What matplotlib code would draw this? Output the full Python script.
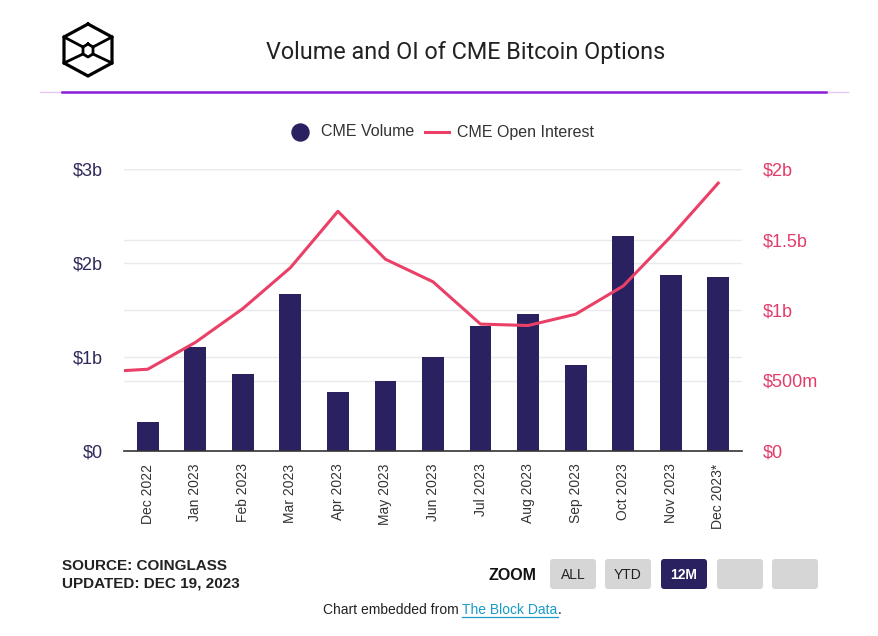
import matplotlib
matplotlib.use("Agg")
import matplotlib.pyplot as plt
from matplotlib.patches import FancyBboxPatch
import numpy as np

# ---- data ----
months = ["Dec 2022", "Jan 2023", "Feb 2023", "Mar 2023", "Apr 2023", "May 2023",
          "Jun 2023", "Jul 2023", "Aug 2023", "Sep 2023", "Oct 2023", "Nov 2023",
          "Dec 2023*"]
volume_b = [0.31, 1.11, 0.82, 1.67, 0.63, 0.74, 1.00, 1.33, 1.46, 0.91, 2.29, 1.87, 1.85]
oi_start_b = 0.57  # open interest at the left edge of the period
oi_b = [0.58, 0.77, 1.01, 1.30, 1.70, 1.36, 1.20, 0.90, 0.89, 0.97, 1.17, 1.52, 1.90]
left_ticks = [0, 1, 2, 3]
left_labels = ["$0", "$1b", "$2b", "$3b"]
right_ticks = [0, 0.5, 1, 1.5, 2]
right_labels = ["$0", "$500m", "$1b", "$1.5b", "$2b"]

W, H = 879, 636
BAR = "#2a2160"
LINE = "#ea4068"
FONT = "Liberation Sans"
fig = plt.figure(figsize=(W / 100, H / 100), dpi=100)
fig.patch.set_facecolor("white")

# main axes
L, R, T, B = 124, 742, 169, 451
ax = fig.add_axes([L / W, 1 - B / H, (R - L) / W, (B - T) / H])
x = np.arange(len(months))
ax.set_xlim(-0.5, len(months) - 0.5)
ax.set_ylim(0, 3)

ax2 = ax.twinx()
ax2.set_ylim(0, 2)

# gridlines of both axes, behind the bars
for v in left_ticks[1:]:
    ax.axhline(v, color="#e9e9ee", lw=1, zorder=0)
for v in right_ticks[1:]:
    ax.axhline(ax.transData.inverted().transform(ax2.transData.transform((0, v)))[1],
               color="#e9e9ee", lw=1, zorder=0)

ax.bar(x, volume_b, width=0.46, color=BAR, zorder=3)
ax.set_yticks(left_ticks)
ax.set_yticklabels(left_labels, color="#2d2a5a", fontsize=13, family=FONT)
ax.set_xticks(x)
ax.set_xticklabels(months, rotation=90, fontsize=10, color="#333333", family=FONT)
ax.tick_params(axis="both", length=0)
ax.tick_params(axis="y", pad=15)
ax.tick_params(axis="x", pad=9)
for s in ["top", "right", "left"]:
    ax.spines[s].set_visible(False)
ax.spines["bottom"].set_color("#333333")
ax.spines["bottom"].set_linewidth(1.2)
ax.spines["bottom"].set_zorder(5)

ax2.plot(np.concatenate([[-0.5], x]), [oi_start_b] + oi_b, color=LINE, lw=2.2, zorder=4)
ax2.set_yticks(right_ticks)
ax2.set_yticklabels(right_labels, color="#e23d6a", fontsize=13, family=FONT)
ax2.tick_params(axis="y", length=0, pad=15)
for s in ["top", "right", "left", "bottom"]:
    ax2.spines[s].set_visible(False)
ax.set_zorder(1)
ax2.set_zorder(2)
ax2.patch.set_visible(False)

# overlay for decorations (pixel coordinates)
ov = fig.add_axes([0, 0, 1, 1])
ov.set_xlim(0, W)
ov.set_ylim(H, 0)
ov.axis("off")
ov.patch.set_visible(False)
ov.set_zorder(0)

# title
ov.text(466, 52, "Volume and OI of CME Bitcoin Options", ha="center", va="center",
        fontsize=16.8, color="#222222", family="Roboto")
ov.plot([40, 848], [92, 92], color="#e3c8f5", lw=1)
ov.plot([62, 826], [92, 92], color="#8a1fd6", lw=1.8)

# logo
hexv = [(88, 24), (112, 37), (112, 63), (88, 76), (64, 63), (64, 37), (88, 24)]
ov.plot([p[0] for p in hexv], [p[1] for p in hexv], color="black", lw=2.3, solid_joinstyle="miter")
inner = [(88, 44), (93, 47), (93, 54), (88, 57), (83, 54), (83, 47), (88, 44)]
ov.plot([p[0] for p in inner], [p[1] for p in inner], color="black", lw=2.0)
for a, b in [((64, 37), (83, 47)), ((112, 37), (93, 47)),
             ((64, 63), (83, 54)), ((112, 63), (93, 54))]:
    ov.plot([a[0], b[0]], [a[1], b[1]], color="black", lw=2.0)

# legend
ov.scatter([300], [132], s=150, color=BAR, zorder=5)
ov.text(321, 132, "CME Volume", va="center", ha="left", fontsize=11.5, color="#333333", family=FONT)
ov.plot([425, 449], [132, 132], color=LINE, lw=2.2)
ov.text(457, 132, "CME Open Interest", va="center", ha="left", fontsize=11.5, color="#333333",
        family=FONT)

# footer
ov.text(62, 566, "SOURCE: COINGLASS", va="center", ha="left", fontsize=11, weight="bold",
        color="#222222", family=FONT)
ov.text(62, 583, "UPDATED: DEC 19, 2023", va="center", ha="left", fontsize=11, weight="bold",
        color="#222222", family=FONT)
ov.text(489, 575, "ZOOM", va="center", ha="left", fontsize=11.5, weight="bold",
        color="#111111", family=FONT)
buttons = [(549, "ALL", False), (604, "YTD", False), (660, "12M", True), (716, "", False),
           (771, "", False)]
for bx, lab, active in buttons:
    ov.add_patch(FancyBboxPatch((bx + 1, 559), 46, 30, boxstyle="round,pad=0,rounding_size=3",
                                facecolor=BAR if active else "#d6d6d6", edgecolor="none"))
    if lab:
        ov.text(bx + 24, 575, lab, ha="center", va="center", fontsize=10,
                color="white" if active else "#222222", weight="bold" if active else "normal",
                family=FONT)

# "Chart embedded from The Block Data." laid out piece by piece
fig.canvas.draw()
r = fig.canvas.get_renderer()
parts = [("Chart embedded from ", "#222222"), ("The Block Data", "#1a9bc7"), (".", "#222222")]
widths = []
for s, c in parts:
    t = ov.text(0, 0, s, fontsize=10, family=FONT)
    widths.append(t.get_window_extent(r).width)
    t.remove()
xpos = 442 - sum(widths) / 2
for (s, c), w in zip(parts, widths):
    ov.text(xpos, 610, s, ha="left", va="center", fontsize=10, color=c, family=FONT)
    if c == "#1a9bc7":
        ov.plot([xpos, xpos + w], [617, 617], color=c, lw=0.9)
    xpos += w

fig.savefig("out.png", dpi=100, facecolor="white")
